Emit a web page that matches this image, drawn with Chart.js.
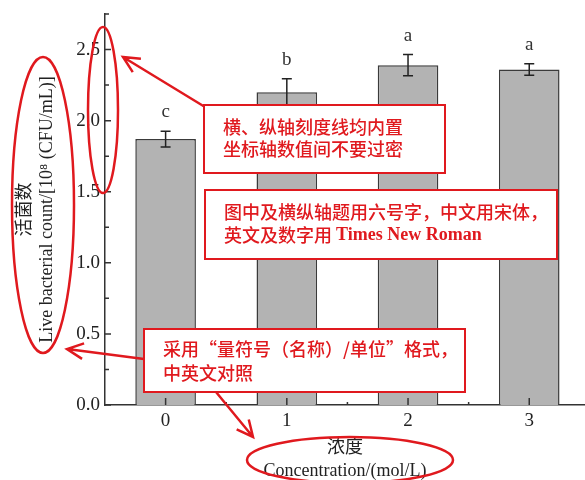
<!DOCTYPE html>
<html lang="zh">
<head>
<meta charset="utf-8">
<title>活菌数</title>
<script src="https://cdn.jsdelivr.net/npm/chart.js"></script>
<style>
  html, body { margin: 0; padding: 0; background: #fff; }
  #wrap { width: 585px; height: 480px; }
</style>
</head>
<body>
<div id="wrap"><canvas id="myChart"></canvas></div>
<script>
// data
const concentrations = [0, 1, 2, 3];
const liveCount = [1.87, 2.20, 2.39, 2.36];
const liveCountErr = [0.055, 0.095, 0.075, 0.04];
const groupLetters = ['c', 'b', 'a', 'a'];
const yTickValues = [0, 0.5, 1.0, 1.5, 2.0, 2.5];
const xTickValues = [0, 1, 2, 3];

const AXIS = '#333';
const RED = '#e0191e';
const SERIF = '"Liberation Serif", "Times New Roman", "Noto Sans CJK SC", serif';
const CJK = '"Noto Sans CJK SC", sans-serif';

// error bars + significance letters
const errorBars = {
    id: 'errorBars',
    afterDatasetsDraw(chart) {
        const {ctx, scales: {x, y}} = chart;
        ctx.save();
        ctx.strokeStyle = '#222';
        ctx.lineWidth = 1.5;
        ctx.fillStyle = '#333';
        ctx.font = '19px ' + SERIF;
        ctx.textAlign = 'center';
        ctx.textBaseline = 'middle';
        concentrations.forEach((c, i) => {
            const px = x.getPixelForValue(c);
            const hi = y.getPixelForValue(liveCount[i] + liveCountErr[i]);
            const lo = y.getPixelForValue(liveCount[i] - liveCountErr[i]);
            ctx.beginPath();
            ctx.moveTo(px, lo); ctx.lineTo(px, hi);
            ctx.moveTo(px - 5, hi); ctx.lineTo(px + 5, hi);
            ctx.moveTo(px - 5, lo); ctx.lineTo(px + 5, lo);
            ctx.stroke();
            ctx.fillText(groupLetters[i], px, hi - 19);
        });
        ctx.restore();
    }
};

// tick marks pointing into the plot
const innerTicks = {
    id: 'innerTicks',
    afterDraw(chart) {
        const {ctx, scales: {x, y}} = chart;
        ctx.save();
        ctx.strokeStyle = AXIS;
        ctx.lineWidth = 1.5;
        ctx.beginPath();
        const yStep = yTickValues[1] - yTickValues[0];
        yTickValues.forEach(v => {
            const py = y.getPixelForValue(v);
            ctx.moveTo(x.left, py); ctx.lineTo(x.left + 6, py);
            const pm = y.getPixelForValue(v + yStep / 2);
            ctx.moveTo(x.left, pm); ctx.lineTo(x.left + 4, pm);
        });
        xTickValues.forEach((v, i) => {
            const px = x.getPixelForValue(v);
            ctx.moveTo(px, y.bottom); ctx.lineTo(px, y.bottom - 7);
            if (i < xTickValues.length - 1) {
                const pm = x.getPixelForValue(v + 0.5);
                ctx.moveTo(pm, y.bottom); ctx.lineTo(pm, y.bottom - 3);
            }
        });
        ctx.stroke();
        ctx.restore();
    }
};

// red editorial notes drawn over the figure
const noteBoxes = [
    {x: 204, y: 105, w: 241, h: 68, tx: 223, ty: [127, 149],
     lines: [[['横、纵轴刻度线均内置', CJK]], [['坐标轴数值间不要过密', CJK]]]},
    {x: 205, y: 190, w: 352, h: 69, tx: 224, ty: [212, 235],
     lines: [[['图中及横纵轴题用六号字，中文用宋体，', CJK]],
             [['英文及数字用 ', CJK], ['Times New Roman', 'bold 18px ' + SERIF]]]},
    {x: 144, y: 329, w: 321, h: 63, tx: 163, ty: [349, 373],
     lines: [[['采用“量符号（名称）/单位”格式，', CJK]], [['中英文对照', CJK]]]}
];
const noteEllipses = [[103, 110, 15, 83], [43, 205, 31, 148], [350, 460, 103, 23]];
const noteArrows = [[205, 107, 123, 57], [144, 359, 67, 349], [216, 392, 253, 437]];

const notes = {
    id: 'notes',
    afterDraw(chart) {
        const ctx = chart.ctx;
        ctx.save();
        ctx.strokeStyle = RED;
        ctx.lineWidth = 2.5;
        noteEllipses.forEach(([cx, cy, rx, ry]) => {
            ctx.beginPath();
            ctx.ellipse(cx, cy, rx, ry, 0, 0, Math.PI * 2);
            ctx.stroke();
        });
        noteArrows.forEach(([x0, y0, x1, y1]) => {
            const a = Math.atan2(y1 - y0, x1 - x0);
            ctx.beginPath();
            ctx.moveTo(x0, y0); ctx.lineTo(x1, y1);
            ctx.moveTo(x1 - 18 * Math.cos(a - 0.45), y1 - 18 * Math.sin(a - 0.45));
            ctx.lineTo(x1, y1);
            ctx.lineTo(x1 - 18 * Math.cos(a + 0.45), y1 - 18 * Math.sin(a + 0.45));
            ctx.stroke();
        });
        ctx.lineWidth = 2;
        ctx.textBaseline = 'middle';
        ctx.textAlign = 'left';
        noteBoxes.forEach(b => {
            ctx.fillStyle = '#fff';
            ctx.fillRect(b.x, b.y, b.w, b.h);
            ctx.strokeRect(b.x, b.y, b.w, b.h);
            ctx.fillStyle = RED;
            b.lines.forEach((line, li) => {
                let tx = b.tx;
                line.forEach(([text, font]) => {
                    ctx.font = font === CJK ? '500 18px ' + CJK : font;
                    ctx.fillText(text, tx, b.ty[li]);
                    tx += ctx.measureText(text).width;
                });
            });
        });
        ctx.restore();
    }
};

const ctx = document.getElementById('myChart').getContext('2d');
new Chart(ctx, {
    type: 'bar',
    data: {
        datasets: [{
            data: concentrations.map((c, i) => ({x: c, y: liveCount[i]})),
            backgroundColor: '#b3b3b3',
            borderColor: '#3a3a3a',
            borderWidth: 1.5,
            borderSkipped: 'bottom',
            barPercentage: 0.5,
            categoryPercentage: 1
        }]
    },
    options: {
        responsive: true,
        maintainAspectRatio: false,
        animation: false,
        layout: {padding: {top: 14, left: 0, right: 0, bottom: 0}},
        plugins: {legend: {display: false}, tooltip: {enabled: false}},
        scales: {
            x: {
                type: 'linear',
                min: -0.5,
                max: 3.46,
                offset: false,
                grid: {display: false, drawTicks: false},
                border: {display: true, color: AXIS, width: 1.5},
                afterBuildTicks: s => { s.ticks = xTickValues.map(v => ({value: v})); },
                afterFit: s => { s.height = 75; s.paddingLeft = 0; s.paddingRight = 0; },
                ticks: {
                    padding: 5,
                    color: '#222',
                    font: {family: SERIF, size: 19},
                    callback: v => String(v)
                },
                title: {
                    display: true,
                    text: ['浓度', 'Concentration/(mol/L)'],
                    color: '#222',
                    font: {family: SERIF, size: 18, lineHeight: 23 / 18},
                    padding: {top: 0, bottom: -3}
                }
            },
            y: {
                min: 0,
                max: 2.75,
                grid: {display: false, drawTicks: false},
                border: {display: true, color: AXIS, width: 1.5},
                afterBuildTicks: s => { s.ticks = yTickValues.map(v => ({value: v})); },
                afterFit: s => { s.width = 105; s.paddingTop = 0; s.paddingBottom = 0; },
                ticks: {
                    padding: 5,
                    color: '#222',
                    font: {family: SERIF, size: 19},
                    callback: v => v.toFixed(1)
                },
                title: {
                    display: true,
                    text: ['活菌数', 'Live bacterial count/[10⁸ (CFU/mL)]'],
                    color: '#222',
                    font: {family: SERIF, size: 18, lineHeight: 22 / 18},
                    padding: {top: 14, bottom: 0}
                }
            }
        }
    },
    plugins: [errorBars, innerTicks, notes]
});
</script>
</body>
</html>
